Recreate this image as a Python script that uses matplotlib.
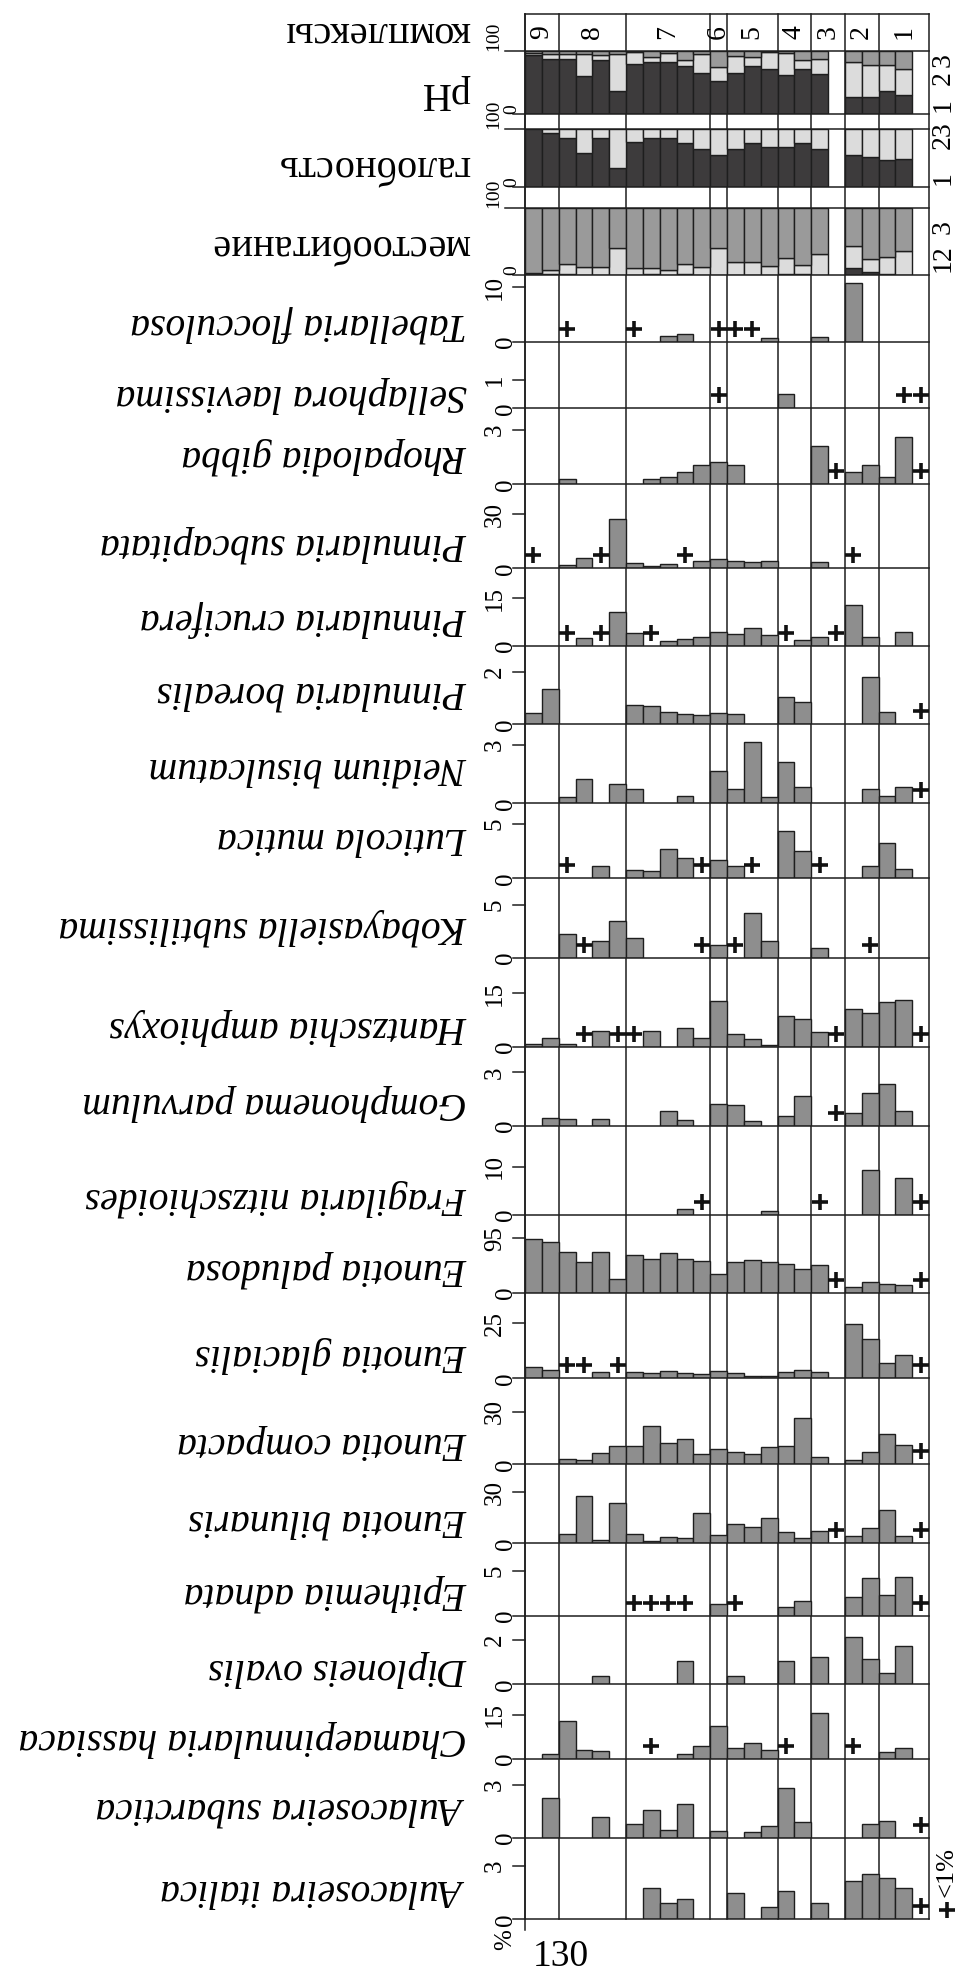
import matplotlib
matplotlib.use('Agg')
import matplotlib.pyplot as plt
import matplotlib.transforms as mtransforms

# --- data --------------------------------------------------------------
zones = ["9", "8", "7", "6", "5", "4", "3", "2", "1"]
zone_edges = [0, 2, 6, 11, 12, 15, 17, 19, 21, 24]

# stacked panels (% of sum), 24 samples, slot 18 and 23 empty
ph_1 = [93, 87, 87, 60, 86, 37, 80, 82, 83, 76, 66, 53, 65, 76, 71, 62, 72, 64, 0, 28, 28, 37, 30, 0]
ph_2 = [4, 8, 8, 36, 8, 59, 18, 8, 14, 10, 30, 22, 27, 15, 27, 35, 14, 23, 0, 55, 50, 41, 42, 0]
ph_3 = [3, 5, 5, 4, 6, 4, 2, 10, 3, 14, 4, 25, 8, 9, 2, 3, 14, 13, 0, 17, 22, 22, 28, 0]

gal_1 = [100, 93, 85, 59, 85, 32, 78, 84, 84, 77, 65, 55, 65, 76, 69, 69, 76, 65, 0, 55, 51, 47, 48, 0]
gal_23 = [0, 7, 15, 41, 15, 68, 22, 16, 16, 23, 35, 45, 35, 24, 31, 31, 24, 35, 0, 45, 49, 53, 52, 0]

hab_1 = [3, 1, 1, 0, 0, 0, 0, 1, 0, 2, 0, 0, 0, 0, 0, 2, 1, 0, 0, 11, 4, 1, 0, 0]
hab_2 = [0, 6, 16, 12, 12, 41, 11, 10, 8, 14, 12, 40, 19, 20, 14, 24, 14, 31, 0, 32, 20, 26, 36, 0]
hab_3 = [97, 93, 83, 88, 88, 59, 89, 89, 92, 84, 88, 60, 81, 80, 86, 74, 85, 69, 0, 57, 76, 73, 64, 0]

# species (%), "+" = <1%
tabellaria = [0, 0, 0, 0, 0, 0, 0, 0, 1.1, 1.4, 0, 0, 0, 0, 0.7, 0, 0, 0.85, 0, 10.7, 0, 0, 0, 0]
tabellaria_plus = [2, 6, 11, 12, 13]
sellaphora = [0] * 15 + [0.5] + [0] * 8
sellaphora_plus = [11, 22, 23]
rhopalodia = [0, 0, 0.29, 0, 0, 0, 0, 0.29, 0.39, 0.70, 1.08, 1.25, 1.08, 0, 0, 0, 0, 2.12, 0, 0.70, 1.09, 0.42, 2.63, 0]
rhopalodia_plus = [18, 23]
p_subcapitata = [0, 0, 1.8, 5.9, 0, 27.4, 2.8, 1.4, 2.2, 0, 4.1, 5.2, 4.2, 3.3, 4.2, 0, 0, 3.3, 0, 0, 0, 0, 0, 0]
p_subcapitata_plus = [0, 4, 9, 19]
p_crucifera = [0, 0, 0, 2.3, 0, 10.8, 3.9, 0, 1.6, 2.1, 2.7, 4.2, 3.6, 5.5, 3.4, 0, 1.8, 2.8, 0, 12.9, 2.8, 0, 4.2, 0]
p_crucifera_plus = [2, 4, 7, 15, 18]
p_borealis = [0.42, 1.33, 0, 0, 0, 0, 0.73, 0.70, 0.46, 0.38, 0.35, 0.42, 0.38, 0, 0, 1.05, 0.84, 0, 0, 0, 1.81, 0.48, 0, 0]
p_borealis_plus = [23]
neidium = [0, 0, 0.34, 1.25, 0, 0.98, 0.72, 0, 0, 0.39, 0, 1.66, 0.74, 3.14, 0.31, 2.11, 0.86, 0, 0, 0, 0.72, 0.39, 0.86, 0]
neidium_plus = [23]
luticola = [0, 0, 0, 0, 1.16, 0, 0.77, 0.70, 2.67, 1.84, 0, 1.69, 1.13, 0, 0, 4.36, 2.51, 0, 0, 0, 1.13, 3.22, 0.83, 0]
luticola_plus = [2, 10, 13, 17]
kobayasiella = [0, 0, 2.22, 0, 1.61, 3.42, 1.84, 0, 0, 0, 0, 1.20, 0, 4.21, 1.61, 0, 0, 0.95, 0, 0, 0, 0, 0, 0]
kobayasiella_plus = [3, 10, 12, 20]
hantzschia = [0.75, 2.5, 0.75, 0, 4.5, 0, 0, 4.5, 0, 5.2, 2.5, 12.8, 3.6, 2.1, 0.5, 8.7, 7.8, 4.0, 0, 10.5, 9.6, 12.6, 13.1, 0]
hantzschia_plus = [3, 5, 6, 18, 23]
gomphonema = [0, 0.46, 0.37, 0, 0.37, 0, 0, 0, 0.84, 0.34, 0, 1.23, 1.17, 0.30, 0, 0.58, 1.69, 0, 0, 0.71, 1.83, 2.35, 0.85, 0]
gomphonema_plus = [18]
fragilaria = [0, 0, 0, 0, 0, 0, 0, 0, 0, 1.2, 0, 0, 0, 0, 0.9, 0, 0, 0, 0, 0, 9.3, 0, 7.7, 0]
fragilaria_plus = [10, 17, 23]
e_paludosa = [93, 88, 70.5, 54, 71.6, 24, 66, 59, 69, 58, 56, 33, 53, 57, 54, 50, 41, 48, 0, 10.5, 19, 16, 13.4, 0]
e_paludosa_plus = [18, 23]
e_glacialis = [5, 3.8, 0, 0, 3, 0, 2.7, 2.3, 3.3, 2.3, 2, 3.2, 2.5, 1, 1, 2.9, 3.8, 2.7, 0, 24.7, 17.9, 6.8, 10.6, 0]
e_glacialis_plus = [2, 3, 5, 23]
e_compacta = [0, 0, 2.9, 2.5, 6.3, 10.4, 10.4, 21.9, 12, 14.4, 5.7, 8.6, 6.8, 5.9, 10, 10.6, 26.2, 4.3, 0, 2.5, 6.8, 17.1, 11, 0]
e_compacta_plus = [23]
e_bilunaris = [0, 0, 5.3, 27.8, 1.9, 23.9, 5.5, 1.5, 3.5, 3.3, 18, 4.7, 11.4, 9.4, 14.7, 6.8, 2.9, 7.4, 0, 4.5, 8.8, 19.6, 4.3, 0]
e_bilunaris_plus = [18, 23]
epithemia = [0] * 11 + [1.29, 0, 0, 0, 1.03, 1.66, 0, 0, 2.13, 4.16, 2.32, 4.34, 0]
epithemia_plus = [6, 7, 8, 9, 12, 23]
diploneis = [0, 0, 0, 0, 0.37, 0, 0, 0, 0, 1.07, 0, 0, 0.39, 0, 0, 1.07, 0, 1.25, 0, 2.12, 1.14, 0.50, 1.73, 0]
diploneis_plus = []
chamaepinnularia = [0, 1.6, 12.9, 2.9, 2.6, 0, 0, 0, 0, 1.5, 4.3, 11.1, 3.7, 5.4, 2.9, 0, 0, 15.4, 0, 0, 0, 2.4, 3.7, 0]
chamaepinnularia_plus = [7, 15, 19]
a_subarctica = [0, 2.24, 0, 0, 1.20, 0, 0.78, 1.58, 0.44, 1.90, 0, 0.38, 0, 0.34, 0.67, 2.81, 0.88, 0, 0, 0, 0.78, 0.97, 0, 0]
a_subarctica_plus = [23]
a_italica = [0, 0, 0, 0, 0, 0, 0, 1.73, 0.90, 1.12, 0, 0, 1.49, 0, 0.71, 1.60, 0, 0.90, 0, 2.14, 2.54, 2.29, 1.73, 0]
a_italica_plus = [23]

species = [
    ("Tabellaria flocculosa", tabellaria, tabellaria_plus, "10"),
    ("Sellaphora laevissima", sellaphora, sellaphora_plus, "1"),
    ("Rhopalodia gibba", rhopalodia, rhopalodia_plus, "3"),
    ("Pinnularia subcapitata", p_subcapitata, p_subcapitata_plus, "30"),
    ("Pinnularia crucifera", p_crucifera, p_crucifera_plus, "15"),
    ("Pinnularia borealis", p_borealis, p_borealis_plus, "2"),
    ("Neidium bisulcatum", neidium, neidium_plus, "3"),
    ("Luticola mutica", luticola, luticola_plus, "5"),
    ("Kobayasiella subtilissima", kobayasiella, kobayasiella_plus, "5"),
    ("Hantzschia amphioxys", hantzschia, hantzschia_plus, "15"),
    ("Gomphonema parvulum", gomphonema, gomphonema_plus, "3"),
    ("Fragilaria nitzschioides", fragilaria, fragilaria_plus, "10"),
    ("Eunotia paludosa", e_paludosa, e_paludosa_plus, "95"),
    ("Eunotia glacialis", e_glacialis, e_glacialis_plus, "25"),
    ("Eunotia compacta", e_compacta, e_compacta_plus, "30"),
    ("Eunotia bilunaris", e_bilunaris, e_bilunaris_plus, "30"),
    ("Epithemia adnata", epithemia, epithemia_plus, "5"),
    ("Diploneis ovalis", diploneis, diploneis_plus, "2"),
    ("Chamaepinnularia hassiaca", chamaepinnularia, chamaepinnularia_plus, "15"),
    ("Aulacoseira subarctica", a_subarctica, a_subarctica_plus, "3"),
    ("Aulacoseira italica", a_italica, a_italica_plus, "3"),
]

# --- layout (pixels of the 956x1973 picture) ---------------------------
W, H = 956, 1973
X0, X1 = 525, 929
SLOT = (X1 - X0) / 24
base_px = [341.7, 408.3, 484.3, 568.3, 645.7, 724.3, 803.3, 878.3, 957.7, 1046.7,
           1126, 1215, 1292.7, 1378.3, 1464.3, 1543.3, 1616, 1684.3, 1758.7, 1837.7, 1919.3]
tick_px = [287, 380, 430, 514.3, 598.3, 671.7, 745, 824, 904.5, 993.3,
           1072.3, 1166.7, 1238.3, 1323.3, 1411.7, 1492.3, 1570.7, 1640, 1714.5, 1785, 1865.7]
name_y = [324, 395, 456, 544, 619, 691, 767, 838, 927, 1026,
          1102, 1198, 1269, 1354, 1442, 1519, 1593, 1668, 1738, 1808, 1890]

LINE = '#1e1e1e'
LW = 1.1
BAR = '#8e8e8e'
DARK = '#3d3b3c'
LIGHT = '#dcdcdc'
MID = '#9a9a9a'
SERIF = 'Liberation Serif'
TICK_FS = 18

fig = plt.figure(figsize=(W / 100, H / 100), dpi=100)


def sx(px):
    return (px - X0) / SLOT


def panel(top, base):
    ax = fig.add_axes([X0 / W, 1 - base / H, (X1 - X0) / W, (base - top) / H])
    ax.set_xlim(0, 24)
    ax.set_facecolor('none')
    ax.axis('off')
    return ax


# background: zone lines and top box
bg = fig.add_axes([X0 / W, 0, (X1 - X0) / W, 1])
bg.set_xlim(0, 24)
bg.set_ylim(H, 0)
bg.axis('off')
for e in zone_edges:
    bg.plot([e, e], [14, 1919.3], color=LINE, lw=LW, clip_on=False)
bg.plot([0, 0], [14, 1930], color=LINE, lw=LW, clip_on=False)
bg.plot([0, 24], [14, 14], color=LINE, lw=LW, clip_on=False)
for i, z in enumerate(zones):
    xc = (zone_edges[i] + zone_edges[i + 1]) / 2
    bg.text(xc, 32, z, rotation=90, ha='center', va='center', fontsize=20, family=SERIF)

# stacked panels
stacks = [
    ("pH", [ph_1, ph_2, ph_3], [DARK, LIGHT, MID], 51, 114.3, [("1", 105), ("2", 78), ("3", 60)], 93),
    ("галобность", [gal_1, gal_23], [DARK, LIGHT], 129.3, 186.7, [("1", 178), ("23", 135)], 166),
    ("местообитание", [hab_1, hab_2, hab_3], [DARK, LIGHT, MID], 208.3, 275, [("12", 258), ("3", 227)], 245),
]
fig.text(470 / W, 1 - 32 / H, "комплексы", rotation=180, ha='right', va='center',
         fontsize=29, family=SERIF)
for title, parts, cols, top, base, keys, ty in stacks:
    ax = panel(top, base)
    ax.set_ylim(0, 100)
    bottom = [0] * 24
    for vals, c in zip(parts, cols):
        idx = [i for i in range(24) if vals[i] > 0]
        ax.bar(idx, [vals[i] for i in idx], bottom=[bottom[i] for i in idx], width=1,
               align='edge', color=c, edgecolor=LINE, lw=1.0)
        bottom = [b + v for b, v in zip(bottom, vals)]
    ax.plot([sx(505), 24], [100, 100], color=LINE, lw=LW, clip_on=False)
    ax.plot([sx(513), 24], [0, 0], color=LINE, lw=LW, clip_on=False)
    ax.text(sx(494), 100, "100", rotation=90, ha='center', va='bottom', fontsize=14,
            family=SERIF, clip_on=False)
    ax.text(sx(512), 0, "0", rotation=90, ha='center', va='bottom', fontsize=14,
            family=SERIF, clip_on=False)
    for k, ky in keys:
        fig.text(943 / W, 1 - ky / H, k, rotation=90, ha='center', va='center',
                 fontsize=20, family=SERIF)
    fig.text(470 / W, 1 - ty / H, title, rotation=180, ha='right', va='center',
             fontsize=29, family=SERIF)

# species panels
prev = 275
for k, (name, vals, plus, tick) in enumerate(species):
    base, tpx = base_px[k], tick_px[k]
    ax = panel(prev, base)
    tv = float(tick)
    ax.set_ylim(0, tv * (base - prev) / (base - tpx))
    idx = [i for i in range(24) if vals[i] > 0]
    ax.bar(idx, [vals[i] for i in idx], width=1, align='edge', color=BAR,
           edgecolor=LINE, lw=1.0)
    ax.plot([sx(513), 24], [0, 0], color=LINE, lw=LW, clip_on=False)
    ax.plot([sx(513), 0], [tv, tv], color=LINE, lw=LW, clip_on=False)
    ax.text(sx(495), tv, tick, rotation=90, ha='center', va='center', fontsize=TICK_FS,
            family=SERIF, clip_on=False)
    ax.text(sx(506), 0, "0", rotation=90, ha='center', va='center', fontsize=TICK_FS,
            family=SERIF, clip_on=False)
    if plus:
        tr = mtransforms.offset_copy(ax.transData, fig=fig, y=13 * 0.72, units='points')
        ax.plot([p + 0.5 for p in plus], [0] * len(plus), ls='none', marker='+',
                ms=11, mew=2.6, color='#111111', transform=tr, clip_on=False)
    fig.text(467 / W, 1 - name_y[k] / H, name, rotation=180, ha='right', va='center',
             fontsize=28.5, family=SERIF, style='italic')
    prev = base

# footer
fig.text(505 / W, 1 - 1940 / H, "%", rotation=90, ha='center', va='center',
         fontsize=TICK_FS, family=SERIF)
fig.text(533 / W, 1 - 1957 / H, "130", ha='left', va='center', fontsize=27, family=SERIF)
fig.text(947 / W, 1 - 1872 / H, "<1%", rotation=90, ha='center', va='center',
         fontsize=19, family=SERIF)
fig.lines.append(plt.Line2D([947 / W], [1 - 1910 / H], transform=fig.transFigure,
                            marker='+', ms=11, mew=2.6, color='#111111', ls='none'))

fig.savefig('out.png', dpi=100)
